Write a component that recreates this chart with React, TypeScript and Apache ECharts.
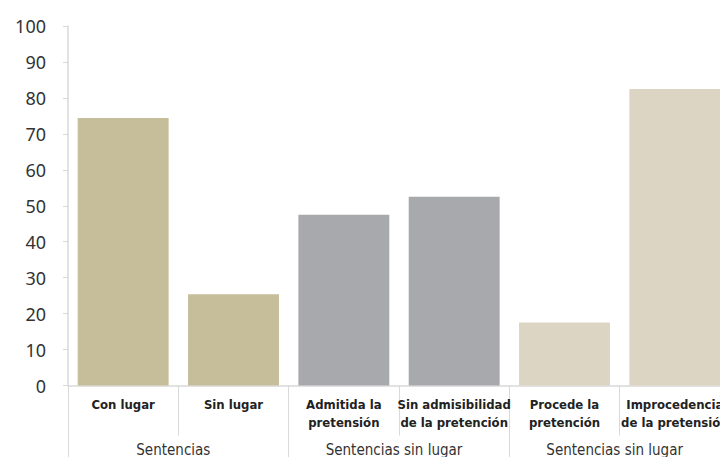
import React, { useEffect, useRef } from "react";
import * as echarts from "echarts";

const categories = [
  "Con lugar",
  "Sin lugar",
  "Admitida la\npretensión",
  "Sin admisibilidad\nde la pretención",
  "Procede la\npretención",
  "Improcedencia\nde la pretensión",
];
const values = [74.4, 25.4, 47.5, 52.5, 17.5, 82.5];
const barColors = ["#c6bd9b", "#c6bd9b", "#a8a9ad", "#a8a9ad", "#ddd5c3", "#ddd5c3"];
const groups = ["Sentencias", "Sentencias sin lugar", "Sentencias sin lugar"];
const yTicks = { min: 0, max: 100, interval: 10 };

export default function App() {
  const ref = useRef<HTMLDivElement>(null);
  useEffect(() => {
    if (!ref.current) return;
    const chart = echarts.init(ref.current, undefined, { renderer: "svg" });
    const axisGray = "#d9d9d9";
    const condensed = "DejaVu Sans Condensed, Liberation Sans Narrow, sans-serif";
    chart.setOption({
      animation: false,
      grid: {
        left: 68,
        top: 26,
        bottom: 71.5,
        right: -10,
        containLabel: false,
        outerBoundsMode: "none",
      },
      xAxis: [
        {
          type: "category",
          data: categories,
          position: "bottom",
          axisLine: { show: true, lineStyle: { color: axisGray, width: 1.5 } },
          axisTick: { show: true, length: 50, interval: 0, lineStyle: { color: axisGray } },
          axisLabel: {
            interval: 0,
            fontFamily: condensed,
            fontWeight: "bold",
            fontSize: 13,
            lineHeight: 18,
            color: "#222",
            margin: 10,
          },
        },
        {
          type: "category",
          data: groups,
          position: "bottom",
          axisLine: { show: false },
          axisTick: { show: true, length: 72, interval: 0, lineStyle: { color: axisGray } },
          axisLabel: {
            interval: 0,
            fontFamily: condensed,
            fontSize: 15,
            color: "#333",
            margin: 57,
            padding: [0, 10, 0, 0],
          },
        },
      ],
      yAxis: {
        type: "value",
        min: yTicks.min,
        max: yTicks.max,
        interval: yTicks.interval,
        axisLine: { show: true, lineStyle: { color: axisGray, width: 1.5 } },
        axisTick: { show: true, length: 5, lineStyle: { color: axisGray } },
        splitLine: { show: false },
        axisLabel: {
          fontFamily: "Noto Sans, sans-serif",
          fontSize: 18,
          color: "#333",
          margin: 22,
        },
      },
      series: [
        {
          type: "bar",
          xAxisIndex: 0,
          barCategoryGap: "17.6%",
          data: values.map((v, i) => ({ value: v, itemStyle: { color: barColors[i] } })),
        },
      ],
    });
    return () => chart.dispose();
  }, []);
  return <div ref={ref} style={{ width: 720, height: 457, position: "absolute", left: 0, top: 0 }} />;
}
